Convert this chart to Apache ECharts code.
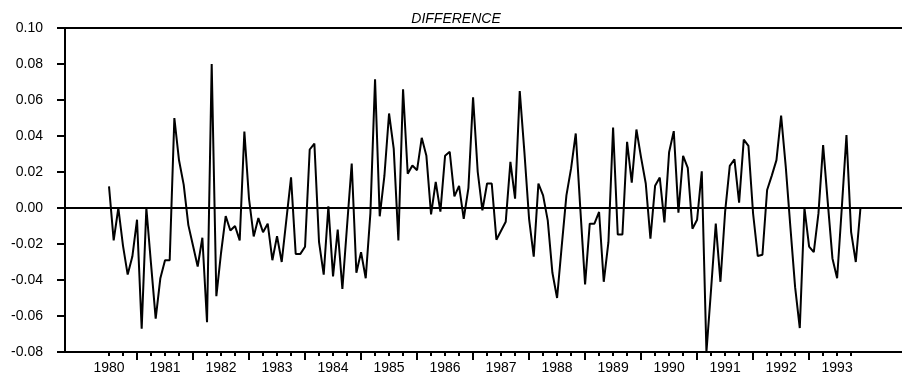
<!DOCTYPE html>
<html>
<head>
<meta charset="utf-8">
<title>DIFFERENCE</title>
<script src="https://cdn.jsdelivr.net/npm/echarts@6/dist/echarts.min.js"></script>
<style>
  html, body { margin: 0; padding: 0; background: #fff; }
  #chart { width: 902px; height: 376px; }
</style>
</head>
<body>
<div id="chart"></div>
<script>
// monthly series, starts Jan 1980
var startYear = 1980;
var yearLabels = [1980, 1981, 1982, 1983, 1984, 1985, 1986, 1987, 1988, 1989, 1990, 1991, 1992, 1993];
var yTicks = [-0.08, -0.06, -0.04, -0.02, 0.00, 0.02, 0.04, 0.06, 0.08, 0.10];
var diff = [
  0.012, -0.018, 0.000, -0.021, -0.037, -0.027, -0.0065, -0.067, 0.000, -0.031, -0.0615, -0.039,
  -0.029, -0.029, 0.050, 0.0265, 0.013, -0.0095, -0.021, -0.0325, -0.0165, -0.0635, 0.080, -0.049,
  -0.025, -0.0045, -0.0125, -0.010, -0.018, 0.0425, 0.005, -0.0158, -0.0056, -0.0135, -0.0087, -0.029,
  -0.0156, -0.030, -0.0065, 0.017, -0.0255, -0.0255, -0.0215, 0.0325, 0.0358, -0.019, -0.037, 0.001,
  -0.038, -0.012, -0.045, -0.010, 0.0247, -0.036, -0.0245, -0.039, -0.003, 0.0715, -0.0046, 0.0178,
  0.0525, 0.033, -0.018, 0.066, 0.019, 0.0236, 0.021, 0.039, 0.029, -0.0035, 0.0145, -0.002,
  0.029, 0.0312, 0.0065, 0.0123, -0.006, 0.011, 0.0615, 0.020, -0.0013, 0.0136, 0.0136, -0.0176,
  -0.0126, -0.0076, 0.0256, 0.0052, 0.065, 0.031, -0.006, -0.027, 0.0136, 0.007, -0.0069, -0.036,
  -0.050, -0.021, 0.007, 0.022, 0.0414, -0.0013, -0.0425, -0.0087, -0.0087, -0.0022, -0.041, -0.019,
  0.0447, -0.0147, -0.0147, 0.0368, 0.0141, 0.0436, 0.028, 0.0136, -0.017, 0.0123, 0.0169, -0.008,
  0.031, 0.0427, -0.0026, 0.029, 0.0223, -0.0115, -0.0065, 0.0204, -0.080, -0.045, -0.0087, -0.041,
  -0.0022, 0.0234, 0.027, 0.003, 0.038, 0.0345, -0.0032, -0.0267, -0.026, 0.010, 0.018, 0.0266,
  0.0513, 0.0228, -0.011, -0.044, -0.0667, 0.000, -0.0214, -0.0245, -0.003, 0.0349, 0.003, -0.028,
  -0.039, 0.000, 0.0405, -0.0134, -0.030, 0.000
];

var font = '"Liberation Sans", Arial, sans-serif';
var xMin = startYear - 9.43 / 12;
var xMax = startYear + 169.9 / 12;
var gridTop = 28, gridBottom = 24;
var plotHeight = 376 - gridTop - gridBottom;
var yTop = yTicks[yTicks.length - 1];

var seriesData = diff.map(function (v, i) { return [startYear + i / 12, v]; });

// quarter ticks (short) and mid-year ticks (long), only over the data span
var quarterTicks = [], julyTicks = [];
for (var i = 0; i < diff.length; i++) {
  if (i % 3 === 0) quarterTicks.push(startYear + i / 12);
  if (i % 12 === 6) julyTicks.push(startYear + i / 12);
}

// only the zero line is drawn among the split lines
var splitColors = yTicks.map(function (t, k) {
  return k === 4 ? '#000' : 'rgba(0,0,0,0)';
});

var myChart = echarts.init(document.getElementById('chart'));

var option = {
  animation: false,
  backgroundColor: '#fff',
  title: {
    text: 'DIFFERENCE',
    left: 451,
    textAlign: 'center',
    top: 7,
    textStyle: { fontFamily: font, fontSize: 14, fontStyle: 'italic', fontWeight: 'normal', color: '#000' }
  },
  grid: { left: 65, right: 0, top: gridTop, bottom: gridBottom },
  xAxis: [
    {
      type: 'value', min: xMin, max: xMax, position: 'bottom',
      axisLine: { show: true, onZero: false, lineStyle: { color: '#000', width: 2 } },
      axisTick: { show: true, length: 4, customValues: quarterTicks, lineStyle: { color: '#000', width: 2 } },
      axisLabel: {
        customValues: yearLabels, margin: 9,
        fontFamily: font, fontSize: 14, color: '#000',
        formatter: function (v) { return String(Math.round(v)); }
      },
      splitLine: { show: false }
    },
    {
      // second axis moved down onto the bottom edge, carries the long mid-year ticks
      type: 'value', min: xMin, max: xMax, position: 'top', offset: -plotHeight,
      axisLine: { show: false, onZero: false },
      axisTick: { show: true, inside: true, length: 8, customValues: julyTicks, lineStyle: { color: '#000', width: 2 } },
      axisLabel: { show: false },
      splitLine: { show: false }
    }
  ],
  yAxis: {
    type: 'value',
    min: yTicks[0],
    max: yTop,
    interval: 0.02,
    axisLine: { show: true, onZero: false, lineStyle: { color: '#000', width: 2 } },
    axisTick: { show: true, length: 8, lineStyle: { color: '#000', width: 2 } },
    axisLabel: {
      margin: 22, fontFamily: font, fontSize: 14, color: '#000',
      formatter: function (v) { return v.toFixed(2); }
    },
    splitLine: {
      show: true, showMinLine: true, showMaxLine: true,
      lineStyle: { color: splitColors, width: 2, type: 'solid' }
    }
  },
  series: [{
    name: 'DIFFERENCE',
    type: 'line',
    xAxisIndex: 0,
    data: seriesData,
    showSymbol: false,
    lineStyle: { color: '#000', width: 2 },
    // top frame line, set a hair inside the range so it is not filtered out
    markLine: {
      silent: true,
      symbol: 'none',
      label: { show: false },
      lineStyle: { color: '#000', width: 2, type: 'solid' },
      data: [{ yAxis: yTop - 0.0003 }]
    }
  }]
};

myChart.setOption(option);
</script>
</body>
</html>
